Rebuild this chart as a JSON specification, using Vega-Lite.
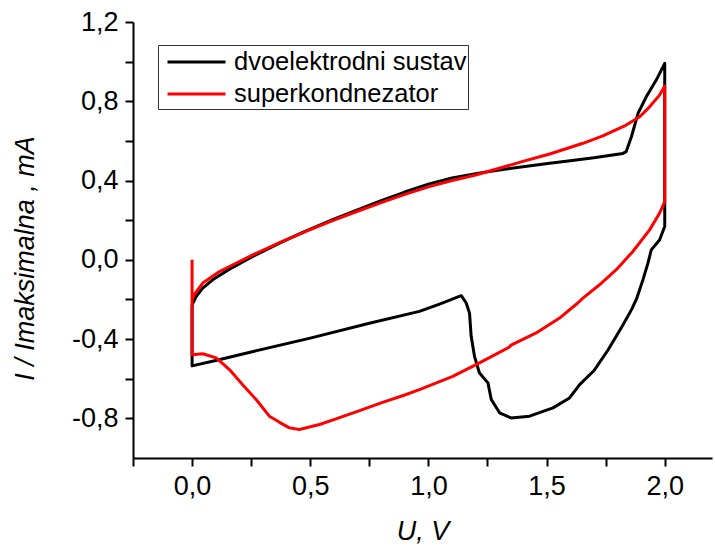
{
  "$schema": "https://vega.github.io/schema/vega-lite/v6.json",
  "autosize": {"type": "none"},
  "padding": {"left": 133, "top": 22, "right": 3, "bottom": 92},
  "width": 579,
  "height": 436,
  "background": "white",
  "config": {
    "view": {"stroke": null},
    "font": "Liberation Sans",
    "axis": {
      "grid": false,
      "domainColor": "black",
      "domainWidth": 2,
      "tickColor": "black",
      "tickWidth": 2,
      "tickSize": 8,
      "labelFont": "Liberation Sans",
      "labelFontSize": 27,
      "labelColor": "black",
      "labelPadding": 7,
      "titleFont": "Liberation Sans",
      "titleFontSize": 27,
      "titleFontWeight": "normal",
      "titleColor": "black"
    }
  },
  "data": {
    "values": [
      {"s": "dvoelektrodni sustav", "o": 1, "u": 0, "i": -0.227},
      {"s": "dvoelektrodni sustav", "o": 2, "u": 0.017, "i": -0.185},
      {"s": "dvoelektrodni sustav", "o": 3, "u": 0.045, "i": -0.143},
      {"s": "dvoelektrodni sustav", "o": 4, "u": 0.087, "i": -0.101},
      {"s": "dvoelektrodni sustav", "o": 5, "u": 0.158, "i": -0.047},
      {"s": "dvoelektrodni sustav", "o": 6, "u": 0.257, "i": 0.017},
      {"s": "dvoelektrodni sustav", "o": 7, "u": 0.37, "i": 0.084},
      {"s": "dvoelektrodni sustav", "o": 8, "u": 0.468, "i": 0.138},
      {"s": "dvoelektrodni sustav", "o": 9, "u": 0.6, "i": 0.205},
      {"s": "dvoelektrodni sustav", "o": 10, "u": 0.7, "i": 0.252},
      {"s": "dvoelektrodni sustav", "o": 11, "u": 0.8, "i": 0.298},
      {"s": "dvoelektrodni sustav", "o": 12, "u": 0.9, "i": 0.342},
      {"s": "dvoelektrodni sustav", "o": 13, "u": 1.0, "i": 0.382},
      {"s": "dvoelektrodni sustav", "o": 14, "u": 1.1, "i": 0.413},
      {"s": "dvoelektrodni sustav", "o": 15, "u": 1.2, "i": 0.435},
      {"s": "dvoelektrodni sustav", "o": 16, "u": 1.3, "i": 0.453},
      {"s": "dvoelektrodni sustav", "o": 17, "u": 1.4, "i": 0.47},
      {"s": "dvoelektrodni sustav", "o": 18, "u": 1.513, "i": 0.487},
      {"s": "dvoelektrodni sustav", "o": 19, "u": 1.6, "i": 0.5},
      {"s": "dvoelektrodni sustav", "o": 20, "u": 1.7, "i": 0.515},
      {"s": "dvoelektrodni sustav", "o": 21, "u": 1.823, "i": 0.537},
      {"s": "dvoelektrodni sustav", "o": 22, "u": 1.837, "i": 0.546},
      {"s": "dvoelektrodni sustav", "o": 23, "u": 1.859, "i": 0.621},
      {"s": "dvoelektrodni sustav", "o": 24, "u": 1.887, "i": 0.739},
      {"s": "dvoelektrodni sustav", "o": 25, "u": 1.922, "i": 0.823},
      {"s": "dvoelektrodni sustav", "o": 26, "u": 1.964, "i": 0.907},
      {"s": "dvoelektrodni sustav", "o": 27, "u": 2.0, "i": 0.991},
      {"s": "dvoelektrodni sustav", "o": 28, "u": 2.0, "i": 0.168},
      {"s": "dvoelektrodni sustav", "o": 29, "u": 1.978, "i": 0.1},
      {"s": "dvoelektrodni sustav", "o": 30, "u": 1.943, "i": 0.05},
      {"s": "dvoelektrodni sustav", "o": 31, "u": 1.929, "i": -0.017},
      {"s": "dvoelektrodni sustav", "o": 32, "u": 1.908, "i": -0.1},
      {"s": "dvoelektrodni sustav", "o": 33, "u": 1.882, "i": -0.193},
      {"s": "dvoelektrodni sustav", "o": 34, "u": 1.86, "i": -0.25},
      {"s": "dvoelektrodni sustav", "o": 35, "u": 1.82, "i": -0.335},
      {"s": "dvoelektrodni sustav", "o": 36, "u": 1.76, "i": -0.455},
      {"s": "dvoelektrodni sustav", "o": 37, "u": 1.7, "i": -0.56},
      {"s": "dvoelektrodni sustav", "o": 38, "u": 1.64, "i": -0.63},
      {"s": "dvoelektrodni sustav", "o": 39, "u": 1.597, "i": -0.697},
      {"s": "dvoelektrodni sustav", "o": 40, "u": 1.527, "i": -0.747},
      {"s": "dvoelektrodni sustav", "o": 41, "u": 1.428, "i": -0.789},
      {"s": "dvoelektrodni sustav", "o": 42, "u": 1.35, "i": -0.798},
      {"s": "dvoelektrodni sustav", "o": 43, "u": 1.301, "i": -0.772},
      {"s": "dvoelektrodni sustav", "o": 44, "u": 1.266, "i": -0.705},
      {"s": "dvoelektrodni sustav", "o": 45, "u": 1.252, "i": -0.621},
      {"s": "dvoelektrodni sustav", "o": 46, "u": 1.216, "i": -0.571},
      {"s": "dvoelektrodni sustav", "o": 47, "u": 1.195, "i": -0.487},
      {"s": "dvoelektrodni sustav", "o": 48, "u": 1.181, "i": -0.386},
      {"s": "dvoelektrodni sustav", "o": 49, "u": 1.174, "i": -0.269},
      {"s": "dvoelektrodni sustav", "o": 50, "u": 1.16, "i": -0.218},
      {"s": "dvoelektrodni sustav", "o": 51, "u": 1.139, "i": -0.181},
      {"s": "dvoelektrodni sustav", "o": 52, "u": 1.05, "i": -0.222},
      {"s": "dvoelektrodni sustav", "o": 53, "u": 0.962, "i": -0.26},
      {"s": "dvoelektrodni sustav", "o": 54, "u": 0.75, "i": -0.32},
      {"s": "dvoelektrodni sustav", "o": 55, "u": 0.5, "i": -0.395},
      {"s": "dvoelektrodni sustav", "o": 56, "u": 0.25, "i": -0.465},
      {"s": "dvoelektrodni sustav", "o": 57, "u": 0.1, "i": -0.508},
      {"s": "dvoelektrodni sustav", "o": 58, "u": 0, "i": -0.535},
      {"s": "dvoelektrodni sustav", "o": 59, "u": 0, "i": -0.227},
      {"s": "superkondnezator", "o": 1, "u": 0, "i": 0.0},
      {"s": "superkondnezator", "o": 2, "u": 0, "i": -0.2},
      {"s": "superkondnezator", "o": 3, "u": 0.01, "i": -0.175},
      {"s": "superkondnezator", "o": 4, "u": 0.045, "i": -0.117},
      {"s": "superkondnezator", "o": 5, "u": 0.116, "i": -0.059},
      {"s": "superkondnezator", "o": 6, "u": 0.257, "i": 0.025},
      {"s": "superkondnezator", "o": 7, "u": 0.37, "i": 0.087},
      {"s": "superkondnezator", "o": 8, "u": 0.497, "i": 0.151},
      {"s": "superkondnezator", "o": 9, "u": 0.6, "i": 0.2},
      {"s": "superkondnezator", "o": 10, "u": 0.7, "i": 0.245},
      {"s": "superkondnezator", "o": 11, "u": 0.8, "i": 0.289},
      {"s": "superkondnezator", "o": 12, "u": 0.9, "i": 0.33},
      {"s": "superkondnezator", "o": 13, "u": 1.0, "i": 0.368},
      {"s": "superkondnezator", "o": 14, "u": 1.1, "i": 0.4},
      {"s": "superkondnezator", "o": 15, "u": 1.2, "i": 0.428},
      {"s": "superkondnezator", "o": 16, "u": 1.3, "i": 0.462},
      {"s": "superkondnezator", "o": 17, "u": 1.4, "i": 0.497},
      {"s": "superkondnezator", "o": 18, "u": 1.513, "i": 0.534},
      {"s": "superkondnezator", "o": 19, "u": 1.654, "i": 0.588},
      {"s": "superkondnezator", "o": 20, "u": 1.738, "i": 0.625},
      {"s": "superkondnezator", "o": 21, "u": 1.837, "i": 0.68},
      {"s": "superkondnezator", "o": 22, "u": 1.894, "i": 0.722},
      {"s": "superkondnezator", "o": 23, "u": 1.936, "i": 0.772},
      {"s": "superkondnezator", "o": 24, "u": 1.978, "i": 0.831},
      {"s": "superkondnezator", "o": 25, "u": 2.0, "i": 0.877},
      {"s": "superkondnezator", "o": 26, "u": 2.0, "i": 0.294},
      {"s": "superkondnezator", "o": 27, "u": 1.978, "i": 0.235},
      {"s": "superkondnezator", "o": 28, "u": 1.936, "i": 0.151},
      {"s": "superkondnezator", "o": 29, "u": 1.865, "i": 0.042},
      {"s": "superkondnezator", "o": 30, "u": 1.795, "i": -0.05},
      {"s": "superkondnezator", "o": 31, "u": 1.724, "i": -0.126},
      {"s": "superkondnezator", "o": 32, "u": 1.654, "i": -0.193},
      {"s": "superkondnezator", "o": 33, "u": 1.632, "i": -0.218},
      {"s": "superkondnezator", "o": 34, "u": 1.555, "i": -0.294},
      {"s": "superkondnezator", "o": 35, "u": 1.456, "i": -0.369},
      {"s": "superkondnezator", "o": 36, "u": 1.35, "i": -0.43},
      {"s": "superkondnezator", "o": 37, "u": 1.343, "i": -0.44},
      {"s": "superkondnezator", "o": 38, "u": 1.216, "i": -0.52},
      {"s": "superkondnezator", "o": 39, "u": 1.103, "i": -0.588},
      {"s": "superkondnezator", "o": 40, "u": 0.962, "i": -0.655},
      {"s": "superkondnezator", "o": 41, "u": 0.9, "i": -0.682},
      {"s": "superkondnezator", "o": 42, "u": 0.8, "i": -0.722},
      {"s": "superkondnezator", "o": 43, "u": 0.7, "i": -0.765},
      {"s": "superkondnezator", "o": 44, "u": 0.6, "i": -0.806},
      {"s": "superkondnezator", "o": 45, "u": 0.539, "i": -0.831},
      {"s": "superkondnezator", "o": 46, "u": 0.454, "i": -0.856},
      {"s": "superkondnezator", "o": 47, "u": 0.412, "i": -0.848},
      {"s": "superkondnezator", "o": 48, "u": 0.37, "i": -0.82},
      {"s": "superkondnezator", "o": 49, "u": 0.327, "i": -0.789},
      {"s": "superkondnezator", "o": 50, "u": 0.271, "i": -0.705},
      {"s": "superkondnezator", "o": 51, "u": 0.214, "i": -0.63},
      {"s": "superkondnezator", "o": 52, "u": 0.158, "i": -0.554},
      {"s": "superkondnezator", "o": 53, "u": 0.102, "i": -0.495},
      {"s": "superkondnezator", "o": 54, "u": 0.045, "i": -0.474},
      {"s": "superkondnezator", "o": 55, "u": 0, "i": -0.479},
      {"s": "superkondnezator", "o": 56, "u": 0, "i": -0.2}
    ]
  },
  "encoding": {
    "x": {
      "field": "u", "type": "quantitative",
      "scale": {"domain": [-0.25, 2.2], "nice": false, "zero": false},
      "axis": {
        "values": [-0.25, 0, 0.25, 0.5, 0.75, 1, 1.25, 1.5, 1.75, 2],
        "labelExpr": "abs(datum.value * 2 - round(datum.value * 2)) < 0.001 ? replace(replace(format(datum.value, '.1f'), '.', ','), '\u2212', '-') : ''",
        "title": "U, V",
        "titleFontStyle": "italic",
        "titleBaseline": "alphabetic",
        "titleY": 81
      }
    },
    "y": {
      "field": "i", "type": "quantitative",
      "scale": {"domain": [-1.0, 1.2], "nice": false, "zero": false},
      "axis": {
        "values": [-0.8, -0.6, -0.4, -0.2, 0, 0.2, 0.4, 0.6, 0.8, 1.0, 1.2],
        "labelExpr": "abs(datum.value / 0.4 - round(datum.value / 0.4)) < 0.001 ? replace(replace(format(datum.value, '.1f'), '.', ','), '\u2212', '-') : ''",
        "title": "I / Imaksimalna , mA",
        "titleFontStyle": "italic",
        "titleAngle": -90,
        "titleBaseline": "middle",
        "titleX": -108,
        "titleY": 236
      }
    },
    "order": {"field": "o", "type": "quantitative"},
    "color": {
      "field": "s", "type": "nominal",
      "scale": {"domain": ["dvoelektrodni sustav", "superkondnezator"], "range": ["#000000", "#ff0000"]},
      "legend": {
        "title": null,
        "orient": "none",
        "legendX": 25,
        "legendY": 23,
        "symbolType": "M-2,0H2",
        "symbolStrokeWidth": 3,
        "symbolSize": 841,
        "symbolOffset": 21.5,
        "labelFont": "Liberation Sans",
        "labelFontSize": 25.5,
        "labelColor": "black",
        "labelOffset": 21.5,
        "labelLimit": 500,
        "strokeColor": "#333333",
        "padding": 1,
        "rowPadding": 2
      }
    }
  },
  "layer": [
    {
      "transform": [{"filter": "datum.s === 'dvoelektrodni sustav'"}],
      "mark": {"type": "line", "strokeWidth": 3, "strokeJoin": "round"}
    },
    {
      "transform": [{"filter": "datum.s === 'superkondnezator'"}],
      "mark": {"type": "line", "strokeWidth": 3, "strokeJoin": "round"}
    }
  ]
}
